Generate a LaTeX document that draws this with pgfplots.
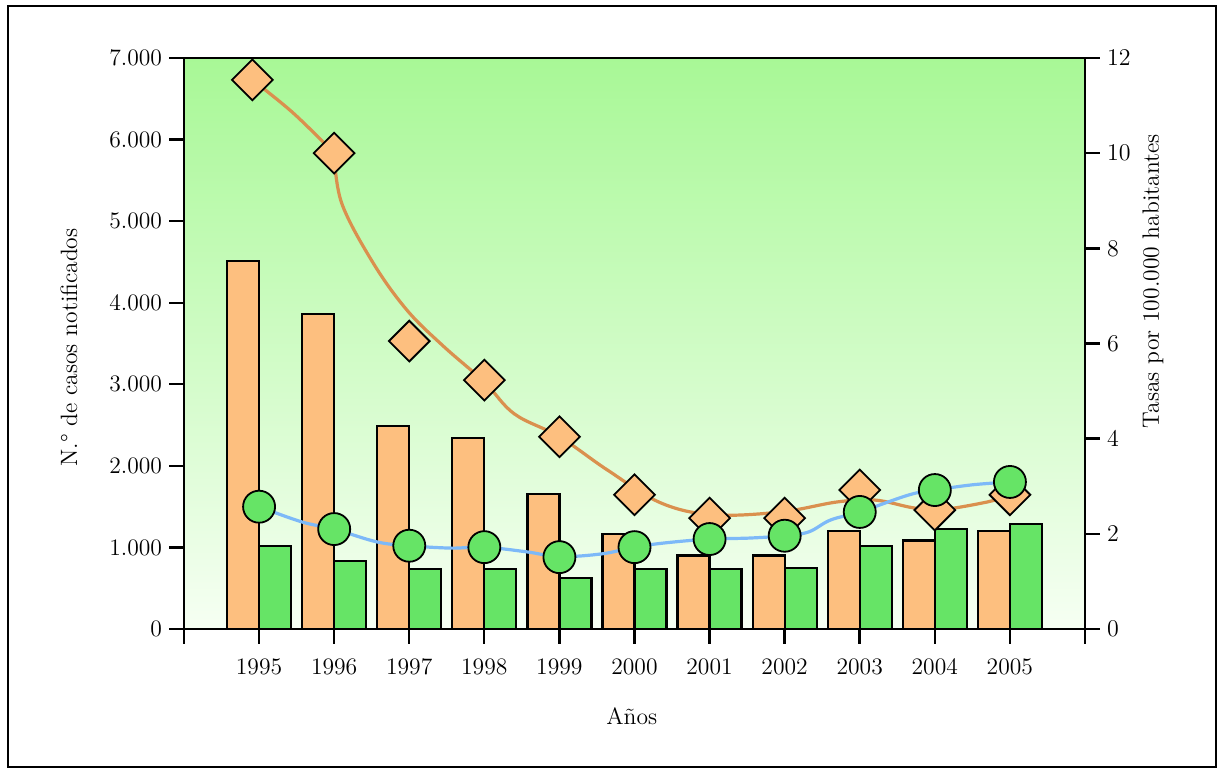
\documentclass[border=0pt]{standalone}
\usepackage{pgfplots}
\pgfplotsset{compat=1.18}
\definecolor{barorange}{RGB}{253,191,127}
\definecolor{bargreen}{RGB}{102,228,102}
\definecolor{lineorange}{RGB}{218,144,78}
\definecolor{lineblue}{RGB}{125,185,248}
\definecolor{bgtop}{RGB}{168,248,150}
\definecolor{bgbot}{RGB}{246,255,243}

\pgfplotstableread{
year casos1 casos2
1995 4510 1020
1996 3860 835
1997 2490 740
1998 2345 740
1999 1655 630
2000 1165 740
2001 900 740
2002 900 750
2003 1205 1020
2004 1085 1225
2005 1205 1290
}\bars

\pgfplotstableread{
x y
1994.91 11.54
1995.45 10.85
1996.00 10.00
}\lineAa

\pgfplotstableread{
x y
1996.00 10.00
1996.10 8.95
1996.52 7.69
1996.97 6.70
1997.45 5.95
1998.00 5.19
1998.40 4.52
1999.00 4.04
1999.64 3.34
2000.35 2.65
2001.05 2.40
2001.95 2.46
2002.70 2.67
2003.20 2.71
2003.70 2.55
2004.05 2.50
2004.70 2.67
2005.00 2.82
}\lineB

\pgfplotstableread{
x y
1995.00 2.57
1995.57 2.25
1996.00 2.10
1996.57 1.83
1997.00 1.75
1997.56 1.70
1998.00 1.72
1998.57 1.62
1999.00 1.52
1999.57 1.58
2000.00 1.72
2000.41 1.81
2001.00 1.89
2001.52 1.91
2002.00 1.96
2002.32 2.04
2002.61 2.29
2003.00 2.46
2003.66 2.82
2004.00 2.92
2004.50 3.03
2005.00 3.09
}\lineC

\pgfplotstableread{
x y
1994.91 11.54
1996 10.00
1997 6.05
1998 5.23
1999 4.04
2000 2.82
2001 2.33
2002 2.33
2003 2.92
2004 2.50
2005 2.82
}\diamonds

\pgfplotstableread{
x y
1995 2.57
1996 2.10
1997 1.75
1998 1.72
1999 1.51
2000 1.72
2001 1.89
2002 1.96
2003 2.46
2004 2.92
2005 3.09
}\circles

\begin{document}
\begin{tikzpicture}
\pgfplotsset{
  commonax/.style={
    scale only axis, width=450.5pt, height=285.5pt,
    at={(0,0)}, anchor=south west,
    xmin=1994, xmax=2006, ymin=0,
    font=\fontsize{11.8}{13}\selectfont,
    tick align=outside, major tick length=7.5pt,
    axis line style={line width=1.2pt},
    every tick/.style={black, line width=1.2pt},
    tick label style={font=\fontsize{11.8}{13}\selectfont},
    label style={font=\fontsize{11.8}{13}\selectfont},
  }
}
\path (-92pt,-72.5pt) rectangle (520pt,314.5pt);
\draw[line width=1.1pt] (-88pt,-69pt) rectangle (516pt,311.5pt);

\begin{axis}[commonax,
  ymax=7000,
  axis background/.style={top color=bgtop, bottom color=bgbot},
  ytick={0,1000,...,7000}, ytick pos=left,
  scaled y ticks=false,
  yticklabel style={/pgf/number format/.cd, 1000 sep={.}, assume math mode=true},
  xtick={1994,...,2006}, xtick pos=bottom,
  xticklabels={{},1995,1996,1997,1998,1999,2000,2001,2002,2003,2004,2005,{}},
  xticklabel style={yshift=-3.5pt, text height=8pt, text depth=0pt},
  ylabel={N.\textdegree{} de casos notificados},
  every axis y label/.style={at={(axis description cs:-0.1276,0.493)}, rotate=90, anchor=center},
  xlabel={Años},
  every axis x label/.style={at={(axis description cs:0.497,-0.152)}, anchor=center},
]
\addplot[ybar, bar width=16pt, bar shift=-8pt, fill=barorange, draw=black, line width=1.1pt] table[x=year, y=casos1] {\bars};
\addplot[ybar, bar width=16pt, bar shift=8pt, fill=bargreen, draw=black, line width=1.1pt] table[x=year, y=casos2] {\bars};
\end{axis}

\begin{axis}[commonax,
  ymax=12, clip=false,
  axis y line*=right, axis x line=none,
  ytick={0,2,...,12},
  ylabel={Tasas por 100.000 habitantes},
  every axis y label/.style={at={(axis description cs:1.0755,0.609)}, rotate=90, anchor=center},
]
\addplot[smooth, tension=0.6, lineorange, line width=1.6pt] table {\lineAa};
\addplot[smooth, tension=0.6, lineorange, line width=1.6pt] table {\lineB};
\addplot[smooth, tension=0.6, lineblue, line width=1.6pt] table {\lineC};
\addplot[only marks, mark=square*, mark size=7.2pt, mark options={rotate=45, fill=barorange, draw=black, line width=0.9pt}] table {\diamonds};
\addplot[only marks, mark=*, mark size=8pt, mark options={fill=bargreen, draw=black, line width=0.9pt}] table {\circles};
\end{axis}
\end{tikzpicture}
\end{document}
